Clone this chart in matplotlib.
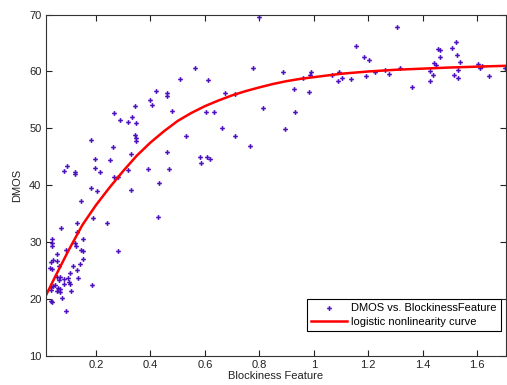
import matplotlib
matplotlib.use('Agg')
import matplotlib.pyplot as plt

plt.rcParams['font.family'] = ['Liberation Sans', 'DejaVu Sans']

# scatter data
blockiness = [0.037, 0.039, 0.037, 0.151, 0.122, 0.125, 0.090, 0.145, 0.151, 0.280,
              0.058, 0.153, 0.033, 0.043, 0.058, 0.142, 0.063, 0.114, 0.030, 0.039,
              0.129, 0.106, 0.056, 0.067, 0.135, 0.083, 0.096, 0.063, 0.100, 0.106,
              0.083, 0.050, 0.043, 0.033, 0.186, 0.061, 0.068, 0.058, 0.033, 0.108,
              0.068, 0.076, 0.033, 0.037, 0.090, 0.072, 0.130, 0.241, 0.189, 0.130,
              0.144, 0.429, 0.183, 0.203, 0.329, 0.433,
              0.083, 0.093, 0.122, 0.122, 0.183, 0.196, 0.196, 0.216, 0.261, 0.267,
              0.287, 0.252, 0.267, 0.281, 0.317, 0.332, 0.342, 0.348, 0.342, 0.348,
              0.348, 0.329, 0.317, 0.398, 0.407, 0.420, 0.462, 0.462, 0.481, 0.391,
              0.459, 0.469, 0.508, 0.530, 0.565, 0.581, 0.584, 0.611, 0.604, 0.634,
              0.607, 0.620, 0.663, 0.673, 0.712, 0.712, 0.766, 0.776, 0.800,
              0.812, 0.887, 0.896, 0.928, 0.932, 0.983, 0.987, 0.990, 0.960, 1.068,
              1.088, 1.094, 1.104, 1.135, 1.155, 1.185, 1.204, 1.190, 1.224, 1.263,
              1.275, 1.307, 1.317, 1.360, 1.428, 1.437, 1.427, 1.443, 1.449, 1.458,
              1.464, 1.463, 1.508, 1.522, 1.525, 1.538, 1.514, 1.528, 1.529, 1.602,
              1.612, 1.619, 1.644, 1.701]
dmos = [30.5, 29.8, 29.3, 30.5, 29.8, 29.35, 28.6, 28.55, 28.35, 28.35,
        27.9, 27.0, 26.5, 26.8, 26.6, 26.1, 25.7, 25.8, 25.4, 25.25,
        25.1, 24.5, 23.9, 23.8, 23.7, 23.55, 23.65, 23.3, 22.9, 22.7,
        22.55, 22.45, 22.3, 22.05, 22.5, 22.0, 21.7, 21.4, 21.55, 21.4,
        21.2, 20.1, 19.7, 19.5, 17.9, 32.5, 33.3, 33.3, 34.2, 31.8,
        37.2, 34.45, 39.55, 38.9, 39.2, 40.3,
        42.55, 43.3, 42.3, 42.0, 47.95, 44.55, 43.1, 42.3, 46.7, 52.65,
        51.5, 44.4, 41.5, 41.5, 51.1, 51.95, 53.9, 51.0, 48.8, 48.3,
        47.8, 45.5, 42.6, 54.9, 54.05, 56.5, 56.2, 55.7, 53.05, 42.85,
        45.8, 42.85, 58.7, 48.7, 60.7, 45.0, 43.85, 58.5, 52.9, 52.9,
        44.9, 44.55, 50.1, 56.2, 56.05, 48.6, 46.9, 60.7, 69.5,
        53.6, 59.9, 49.9, 56.9, 52.8, 56.4, 59.4, 59.9, 58.9, 59.3,
        58.4, 59.9, 58.8, 58.6, 64.5, 62.5, 62.0, 59.15, 59.9, 60.3,
        59.6, 67.9, 60.6, 57.3, 60.0, 59.3, 58.4, 61.45, 61.2, 63.9,
        63.7, 62.5, 64.2, 65.25, 62.85, 61.7, 59.45, 60.3, 58.8, 61.3,
        60.6, 61.0, 59.15, 60.7]

# fitted curve
curve_x = [0.015, 0.05, 0.1, 0.15, 0.2, 0.25, 0.3, 0.35, 0.4, 0.45, 0.5, 0.55,
           0.6, 0.65, 0.7, 0.75, 0.8, 0.85, 0.9, 0.95, 1.0, 1.1, 1.2, 1.3,
           1.4, 1.5, 1.6, 1.706]
curve_y = [20.5, 23.9, 28.6, 33.0, 36.5, 39.6, 42.5, 45.2, 47.5, 49.5, 51.3, 52.7,
           53.9, 54.9, 55.8, 56.55, 57.2, 57.8, 58.3, 58.7, 59.0, 59.6, 60.0, 60.3,
           60.5, 60.7, 60.85, 61.0]

xticks = [0.2, 0.4, 0.6, 0.8, 1, 1.2, 1.4, 1.6]
xtick_labels = ['0.2', '0.4', '0.6', '0.8', '1', '1.2', '1.4', '1.6']
yticks = [10, 20, 30, 40, 50, 60, 70]

fig = plt.figure(figsize=(5.07, 3.85), dpi=100)
ax = fig.add_axes([0.090, 0.076, 0.908, 0.886])

ax.plot(blockiness, dmos, linestyle='none', marker='P', markersize=3.4,
        color='#4b0fbf', markeredgewidth=0, label='DMOS vs. BlockinessFeature')
ax.plot(curve_x, curve_y, color='#ff0000', linewidth=1.8,
        label='logistic nonlinearity curve')

ax.set_xlim(0.015, 1.706)
ax.set_ylim(10, 70)
ax.set_xticks(xticks)
ax.set_xticklabels(xtick_labels)
ax.set_yticks(yticks)
ax.tick_params(direction='in', top=True, right=True, length=4, width=0.8,
               labelsize=8, colors='#222222', pad=3)
for s in ax.spines.values():
    s.set_linewidth(0.8)
    s.set_color('#333333')

ax.set_xlabel('Blockiness Feature', fontsize=8, color='#222222', labelpad=1)
ax.set_ylabel('DMOS', fontsize=8, color='#222222', labelpad=5)

leg = ax.legend(loc='lower right', bbox_to_anchor=(0.989, 0.072), borderaxespad=0,
                fancybox=False, edgecolor='black', framealpha=1, fontsize=8,
                handlelength=3.2, handletextpad=0.4, borderpad=0.4, labelspacing=0.3)
leg.get_frame().set_linewidth(0.8)

fig.savefig('out.png', dpi=100)
